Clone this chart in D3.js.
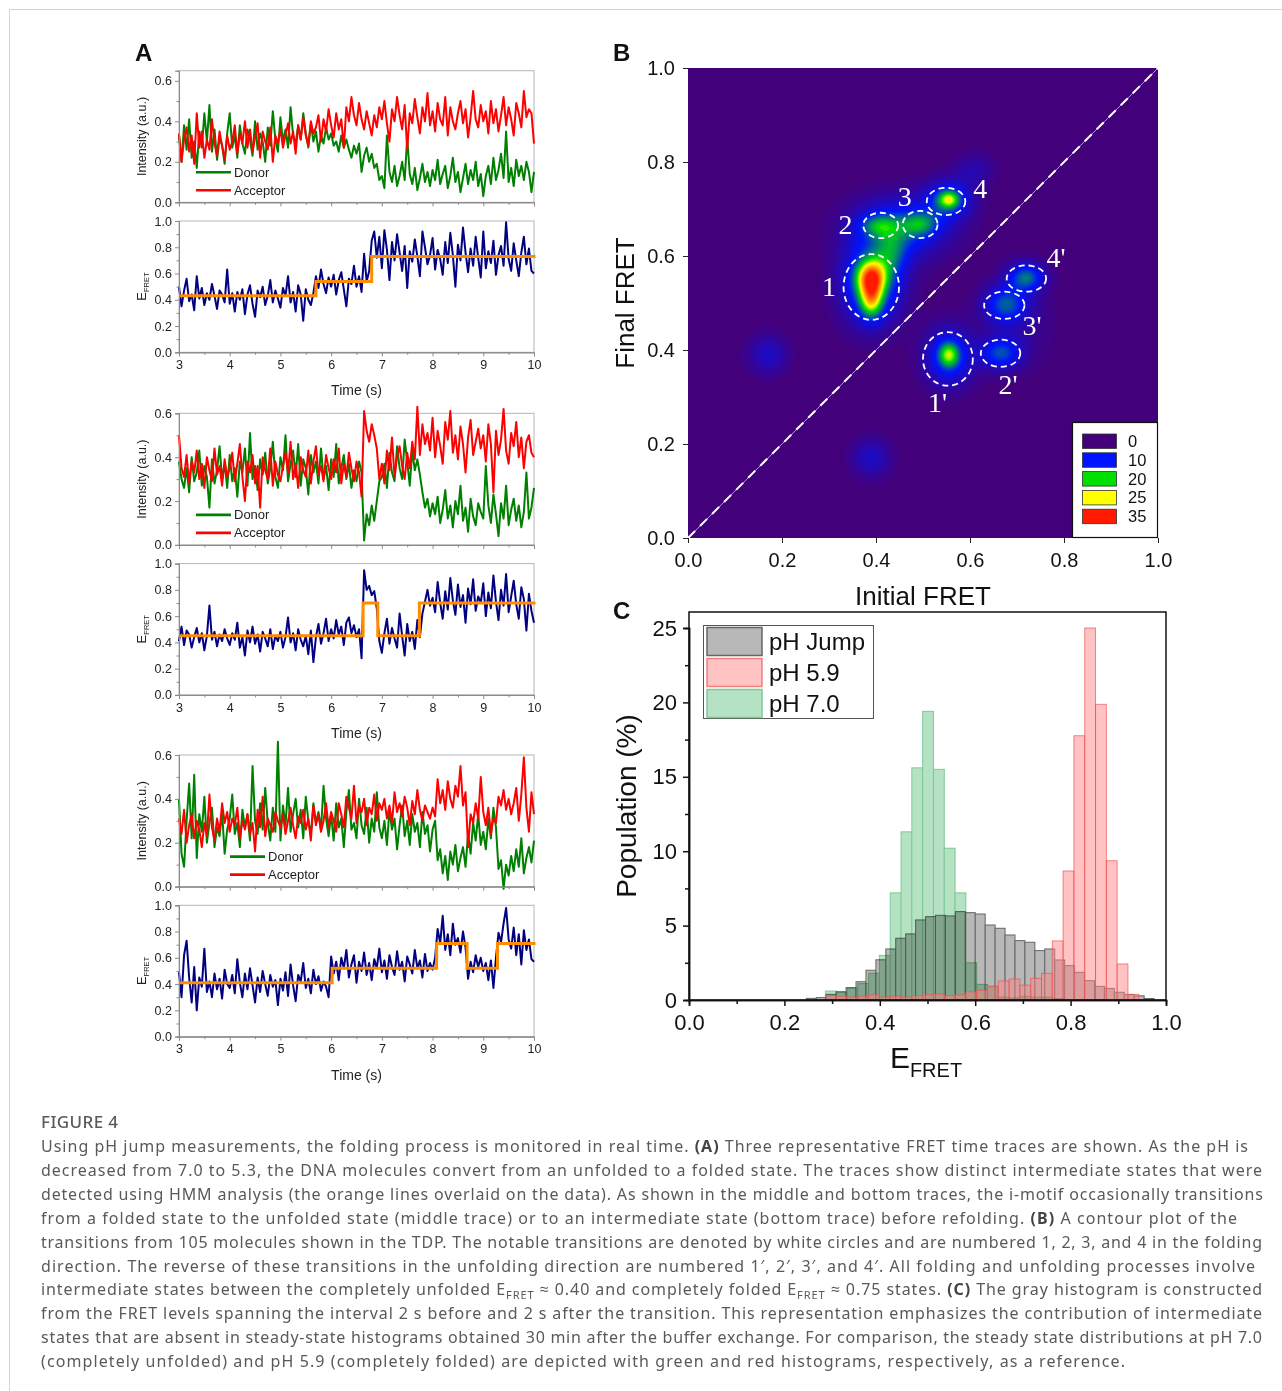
<!DOCTYPE html>
<html>
<head>
<meta charset="utf-8">
<script src="https://cdn.jsdelivr.net/npm/d3@7"></script>
<style>
  body { margin: 0; background: #fff; }
</style>
</head>
<body>
<svg id="fig" width="1282" height="1391" font-family="Liberation Sans, Arial, sans-serif"></svg>
<script>
// ---- Panel A: time traces (one value every 50 ms from 3 s to 10 s) ----
const traceStart = 3;
const frameStep = 0.05;

const donor1 = [
  0.33,0.20,0.38,0.26,0.41,0.22,0.30,0.17,0.35,0.27,0.44,0.30,0.48,0.25,0.36,0.21,0.32,0.28,0.19,0.34,
  0.44,0.27,0.33,0.22,0.38,0.29,0.24,0.36,0.31,0.23,0.40,0.26,0.34,0.30,0.20,0.37,0.28,0.45,0.31,0.25,
  0.42,0.30,0.36,0.27,0.47,0.33,0.29,0.38,0.31,0.44,0.34,0.27,0.39,0.30,0.35,0.25,0.33,0.29,0.37,0.31,
  0.34,0.28,0.30,0.25,0.33,0.27,0.31,0.26,0.22,0.28,0.24,0.29,0.15,0.23,0.27,0.20,0.24,0.17,0.19,0.11,
  0.13,0.07,0.33,0.15,0.10,0.18,0.08,0.13,0.20,0.11,0.32,0.14,0.09,0.17,0.06,0.12,0.19,0.10,0.15,0.08,
  0.16,0.11,0.21,0.09,0.14,0.18,0.07,0.13,0.22,0.10,0.15,0.05,0.12,0.19,0.09,0.16,0.11,0.20,0.08,0.14,
  0.03,0.13,0.18,0.09,0.22,0.11,0.16,0.24,0.12,0.35,0.10,0.17,0.08,0.21,0.13,0.18,0.11,0.20,0.15,0.05,
  0.15];
const acceptor1 = [
  0.34,0.20,0.31,0.37,0.25,0.33,0.19,0.44,0.27,0.35,0.22,0.31,0.26,0.41,0.29,0.23,0.35,0.28,0.21,0.33,
  0.26,0.30,0.38,0.24,0.34,0.29,0.40,0.27,0.36,0.25,0.32,0.39,0.22,0.35,0.30,0.26,0.37,0.20,0.33,0.29,
  0.36,0.27,0.33,0.39,0.29,0.35,0.24,0.38,0.31,0.42,0.33,0.28,0.40,0.34,0.37,0.43,0.30,0.41,0.35,0.46,
  0.38,0.32,0.44,0.36,0.41,0.27,0.47,0.40,0.52,0.43,0.38,0.49,0.41,0.36,0.45,0.39,0.33,0.43,0.37,0.47,
  0.41,0.50,0.39,0.30,0.46,0.40,0.52,0.43,0.36,0.48,0.26,0.44,0.39,0.51,0.42,0.34,0.47,0.40,0.54,0.38,
  0.45,0.35,0.49,0.41,0.38,0.52,0.33,0.47,0.40,0.36,0.44,0.50,0.39,0.46,0.32,0.42,0.55,0.41,0.37,0.48,
  0.40,0.45,0.34,0.50,0.39,0.46,0.35,0.43,0.52,0.38,0.47,0.41,0.33,0.49,0.44,0.37,0.55,0.42,0.46,0.44,
  0.29];
const efret1 = [
  0.50,0.35,0.47,0.56,0.39,0.44,0.32,0.58,0.41,0.49,0.36,0.45,0.40,0.52,0.43,0.33,0.47,0.44,0.38,0.63,
  0.37,0.45,0.31,0.46,0.40,0.48,0.29,0.44,0.51,0.37,0.27,0.47,0.42,0.50,0.36,0.43,0.55,0.38,0.47,0.41,
  0.34,0.49,0.43,0.58,0.38,0.46,0.31,0.51,0.44,0.24,0.48,0.40,0.36,0.45,0.58,0.49,0.63,0.52,0.45,0.57,
  0.50,0.59,0.44,0.55,0.61,0.48,0.35,0.56,0.52,0.66,0.50,0.58,0.46,0.75,0.54,0.62,0.85,0.92,0.72,0.88,
  0.64,0.93,0.78,0.55,0.84,0.70,0.90,0.76,0.62,0.81,0.49,0.77,0.69,0.86,0.73,0.58,0.92,0.80,0.67,0.74,
  0.87,0.63,0.78,0.71,0.59,0.84,0.68,0.91,0.74,0.50,0.82,0.70,0.95,0.76,0.61,0.79,0.66,0.88,0.72,0.57,
  0.92,0.64,0.77,0.68,0.85,0.59,0.74,0.81,0.66,0.99,0.71,0.62,0.83,0.70,0.58,0.76,0.88,0.67,0.79,0.62,
  0.60];
const hmmTimes1 = [3, 5.7, 6.8, 10.03];
const hmmLevels1 = [0.43, 0.54, 0.73];

const donor2 = [
  0.38,0.30,0.26,0.35,0.24,0.40,0.29,0.33,0.43,0.27,0.36,0.31,0.17,0.39,0.28,0.34,0.45,0.30,0.37,0.26,
  0.41,0.29,0.35,0.22,0.38,0.33,0.44,0.27,0.51,0.30,0.36,0.25,0.39,0.32,0.42,0.28,0.35,0.47,0.31,0.26,
  0.40,0.34,0.50,0.29,0.37,0.43,0.31,0.46,0.27,0.39,0.35,0.23,0.41,0.33,0.38,0.28,0.44,0.30,0.36,0.25,
  0.39,0.31,0.46,0.28,0.35,0.41,0.30,0.37,0.26,0.34,0.29,0.38,0.33,0.02,0.14,0.09,0.18,0.11,0.20,0.29,
  0.31,0.37,0.26,0.42,0.33,0.29,0.45,0.35,0.30,0.48,0.38,0.27,0.43,0.34,0.39,0.32,0.24,0.17,0.21,0.13,
  0.19,0.14,0.22,0.10,0.16,0.25,0.12,0.18,0.08,0.20,0.14,0.27,0.11,0.17,0.06,0.21,0.13,0.09,0.19,0.15,
  0.12,0.36,0.18,0.10,0.23,0.14,0.04,0.19,0.12,0.27,0.09,0.16,0.21,0.11,0.18,0.08,0.15,0.33,0.12,0.17,
  0.26];
const acceptor2 = [
  0.50,0.35,0.31,0.41,0.28,0.38,0.33,0.43,0.30,0.37,0.26,0.40,0.34,0.29,0.44,0.32,0.36,0.27,0.39,0.31,
  0.35,0.42,0.29,0.37,0.46,0.31,0.20,0.38,0.33,0.41,0.28,0.36,0.17,0.40,0.34,0.30,0.44,0.27,0.38,0.32,
  0.29,0.36,0.42,0.33,0.47,0.30,0.37,0.26,0.40,0.34,0.31,0.43,0.28,0.38,0.45,0.32,0.36,0.29,0.41,0.35,
  0.30,0.39,0.33,0.44,0.28,0.37,0.31,0.42,0.35,0.29,0.38,0.33,0.22,0.61,0.52,0.47,0.55,0.50,0.44,0.30,
  0.37,0.28,0.43,0.34,0.49,0.31,0.40,0.45,0.36,0.30,0.42,0.35,0.47,0.39,0.63,0.41,0.55,0.46,0.51,0.43,
  0.58,0.40,0.52,0.45,0.37,0.56,0.48,0.61,0.42,0.50,0.39,0.54,0.46,0.33,0.49,0.57,0.41,0.47,0.53,0.44,
  0.50,0.38,0.55,0.46,0.24,0.52,0.41,0.48,0.62,0.43,0.37,0.51,0.45,0.56,0.40,0.49,0.35,0.47,0.50,0.42,
  0.40];
const efret2 = [
  0.41,0.52,0.38,0.49,0.46,0.36,0.44,0.51,0.40,0.47,0.34,0.45,0.68,0.42,0.48,0.37,0.46,0.41,0.50,0.43,
  0.38,0.47,0.42,0.55,0.36,0.44,0.30,0.49,0.40,0.52,0.39,0.46,0.33,0.48,0.43,0.37,0.50,0.35,0.45,0.41,
  0.48,0.36,0.44,0.59,0.40,0.47,0.34,0.50,0.42,0.37,0.45,0.31,0.49,0.25,0.44,0.54,0.39,0.47,0.58,0.41,
  0.50,0.43,0.57,0.46,0.52,0.38,0.55,0.59,0.47,0.53,0.44,0.50,0.28,0.95,0.80,0.83,0.76,0.79,0.66,0.41,
  0.32,0.47,0.58,0.39,0.51,0.43,0.36,0.62,0.45,0.30,0.54,0.41,0.48,0.35,0.57,0.44,0.62,0.71,0.80,0.68,
  0.74,0.63,0.86,0.70,0.58,0.79,0.65,0.89,0.72,0.61,0.84,0.67,0.76,0.55,0.81,0.69,0.88,0.64,0.75,0.70,
  0.85,0.60,0.78,0.66,0.91,0.71,0.57,0.80,0.68,0.92,0.63,0.75,0.87,0.69,0.58,0.82,0.73,0.49,0.77,0.64,
  0.55];
const hmmTimes2 = [3, 6.63, 6.92, 7.74, 10.03];
const hmmLevels2 = [0.45, 0.70, 0.45, 0.70];

const donor3 = [
  0.40,0.15,0.09,0.30,0.47,0.22,0.51,0.13,0.33,0.25,0.41,0.20,0.29,0.36,0.18,0.27,0.23,0.34,0.15,0.26,
  0.31,0.42,0.24,0.29,0.18,0.35,0.27,0.33,0.21,0.55,0.30,0.24,0.38,0.26,0.45,0.29,0.21,0.36,0.25,0.66,
  0.21,0.37,0.28,0.45,0.25,0.33,0.40,0.27,0.35,0.22,0.41,0.30,0.24,0.38,0.29,0.34,0.26,0.46,0.31,0.23,
  0.33,0.21,0.38,0.27,0.31,0.18,0.34,0.44,0.26,0.29,0.22,0.40,0.28,0.24,0.36,0.20,0.31,0.25,0.43,0.27,
  0.22,0.30,0.19,0.35,0.26,0.31,0.17,0.28,0.37,0.23,0.30,0.19,0.33,0.25,0.29,0.18,0.34,0.24,0.28,0.16,
  0.26,0.30,0.12,0.17,0.06,0.14,0.03,0.16,0.10,0.19,0.07,0.13,0.18,0.09,0.24,0.15,0.29,0.21,0.33,0.19,
  0.25,0.17,0.31,0.22,0.36,0.27,0.08,0.12,-0.01,0.10,0.05,0.14,0.07,0.17,0.09,0.22,0.06,0.13,0.18,0.11,
  0.21];
const acceptor3 = [
  0.31,0.24,0.35,0.20,0.28,0.33,0.22,0.30,0.26,0.18,0.29,0.23,0.42,0.27,0.21,0.31,0.25,0.38,0.29,0.34,
  0.25,0.31,0.28,0.36,0.22,0.30,0.26,0.33,0.24,0.29,0.16,0.35,0.27,0.41,0.23,0.31,0.28,0.25,0.34,0.30,
  0.27,0.33,0.24,0.30,0.36,0.28,0.22,0.32,0.29,0.35,0.26,0.31,0.21,0.37,0.28,0.33,0.25,0.30,0.38,0.27,
  0.34,0.30,0.25,0.38,0.33,0.27,0.41,0.36,0.31,0.46,0.29,0.37,0.34,0.40,0.28,0.36,0.33,0.42,0.30,0.38,
  0.35,0.40,0.31,0.37,0.29,0.43,0.34,0.38,0.32,0.41,0.36,0.28,0.39,0.33,0.44,0.35,0.30,0.37,0.34,0.31,
  0.36,0.32,0.49,0.38,0.44,0.35,0.48,0.40,0.36,0.46,0.41,0.55,0.37,0.43,0.18,0.33,0.29,0.38,0.31,0.50,
  0.34,0.28,0.36,0.24,0.31,0.29,0.41,0.37,0.44,0.35,0.40,0.33,0.38,0.45,0.30,0.42,0.59,0.36,0.25,0.43,
  0.33];
const efret3 = [
  0.49,0.30,0.62,0.73,0.45,0.26,0.53,0.20,0.45,0.38,0.67,0.34,0.42,0.30,0.48,0.36,0.44,0.29,0.51,0.40,
  0.37,0.47,0.33,0.59,0.41,0.30,0.48,0.36,0.52,0.39,0.26,0.45,0.34,0.50,0.40,0.31,0.47,0.38,0.43,0.24,
  0.44,0.35,0.49,0.31,0.55,0.39,0.27,0.47,0.42,0.56,0.37,0.44,0.33,0.51,0.40,0.46,0.35,0.42,0.38,0.30,
  0.61,0.48,0.57,0.43,0.60,0.52,0.66,0.45,0.55,0.62,0.41,0.57,0.50,0.64,0.47,0.56,0.43,0.59,0.52,0.67,
  0.49,0.58,0.44,0.62,0.53,0.47,0.65,0.51,0.57,0.42,0.61,0.55,0.48,0.66,0.52,0.58,0.45,0.63,0.50,0.56,
  0.51,0.60,0.82,0.71,0.92,0.66,0.78,0.62,0.86,0.70,0.75,0.64,0.80,0.68,0.44,0.57,0.49,0.62,0.53,0.60,
  0.50,0.56,0.43,0.58,0.37,0.60,0.79,0.72,0.86,0.98,0.74,0.67,0.83,0.62,0.78,0.55,0.81,0.66,0.74,0.59,
  0.57];
const hmmTimes3 = [3, 6.02, 8.08, 8.68, 9.28, 10.03];
const hmmLevels3 = [0.41, 0.52, 0.71, 0.52, 0.71];

// ---- Panel B: transition density peaks (initial FRET, final FRET) ----
const peakX   = [0.39, 0.39, 0.39, 0.45, 0.405, 0.495, 0.555, 0.555, 0.555, 0.555, 0.665, 0.675, 0.72, 0.17, 0.39, 0.61, 0.435, 0.70];
const peakY   = [0.555, 0.505, 0.54, 0.66, 0.665, 0.668, 0.72, 0.72, 0.39, 0.385, 0.393, 0.497, 0.555, 0.39, 0.17, 0.785, 0.605, 0.46];
const peakAmp = [20, 15, 15, 12, 8, 9, 14, 11, 13, 12, 12, 12, 14, 6, 6, 4, 7, 3];
const peakSx  = [0.022, 0.017, 0.045, 0.07, 0.028, 0.026, 0.016, 0.036, 0.015, 0.036, 0.03, 0.032, 0.027, 0.03, 0.03, 0.03, 0.024, 0.05];
const peakSy  = [0.026, 0.028, 0.06, 0.045, 0.016, 0.018, 0.013, 0.03, 0.018, 0.044, 0.023, 0.027, 0.021, 0.03, 0.03, 0.025, 0.038, 0.07];
const densityLevels = [0, 10, 20, 25, 35];
const densityColors = ["#42007a", "#0014ff", "#00e000", "#ffff00", "#ff1a00"];
// marked transitions
const markLabels = ["1", "2", "3", "4", "1'", "2'", "3'", "4'"];
const markX  = [0.39, 0.41, 0.494, 0.549, 0.553, 0.665, 0.673, 0.72];
const markY  = [0.534, 0.665, 0.667, 0.716, 0.381, 0.393, 0.495, 0.552];
const markRx = [0.059, 0.037, 0.037, 0.041, 0.053, 0.042, 0.043, 0.042];
const markRy = [0.070, 0.027, 0.029, 0.029, 0.057, 0.029, 0.029, 0.028];
const labelX = [0.30, 0.335, 0.461, 0.622, 0.531, 0.681, 0.732, 0.783];
const labelY = [0.534, 0.666, 0.726, 0.743, 0.288, 0.326, 0.452, 0.596];

// ---- Panel C: EFRET histograms (%) ----
const jumpStart = 0.246, jumpBin = 0.02083;
const jumpPop = [0.11,0.16,0.38,0.56,0.83,1.23,2.0,2.7,3.43,4.15,4.44,5.38,5.6,5.69,5.65,5.94,5.87,5.78,
                 5.04,4.82,4.37,3.99,3.88,3.32,3.43,2.69,2.31,1.86,1.3,0.92,0.78,0.52,0.36,0.28,0.1];
const steadyStart = 0.286, steadyBin = 0.02265;
const ph70Pop = [0.6,0.5,0.8,1.1,1.8,3.0,7.2,11.3,15.6,19.4,15.5,10.2,7.2,2.5,1.05,0.9,0.2,0.15,0.25,0.2,0.2,0.1];
const ph59Pop = [0.3,0.25,0.2,0.25,0.35,0.2,0.25,0.2,0.3,0.35,0.4,0.3,0.35,0.55,0.65,0.94,1.28,1.41,1.0,1.46,1.79,
                 3.97,8.67,17.76,25.0,19.87,9.36,2.42,0.38];
const histSeries = ["pH Jump", "pH 5.9", "pH 7.0"];

const captionLines = [
  [["Using pH jump measurements, the folding process is monitored in real time. "], ["(A)", "b"], [" Three representative FRET time traces are shown. As the pH is"]],
  [["decreased from 7.0 to 5.3, the DNA molecules convert from an unfolded to a folded state. The traces show distinct intermediate states that were"]],
  [["detected using HMM analysis (the orange lines overlaid on the data). As shown in the middle and bottom traces, the i-motif occasionally transitions"]],
  [["from a folded state to the unfolded state (middle trace) or to an intermediate state (bottom trace) before refolding. "], ["(B)", "b"], [" A contour plot of the"]],
  [["transitions from 105 molecules shown in the TDP. The notable transitions are denoted by white circles and are numbered 1, 2, 3, and 4 in the folding"]],
  [["direction. The reverse of these transitions in the unfolding direction are numbered 1\u2032, 2\u2032, 3\u2032, and 4\u2032. All folding and unfolding processes involve"]],
  [["intermediate states between the completely unfolded E"], ["FRET", "sub"], [" \u2248 0.40 and completely folded E"], ["FRET", "sub"], [" \u2248 0.75 states. "], ["(C)", "b"], [" The gray histogram is constructed"]],
  [["from the FRET levels spanning the interval 2 s before and 2 s after the transition. This representation emphasizes the contribution of intermediate"]],
  [["states that are absent in steady-state histograms obtained 30 min after the buffer exchange. For comparison, the steady state distributions at pH 7.0"]],
  [["(completely unfolded) and pH 5.9 (completely folded) are depicted with green and red histograms, respectively, as a reference."]]
];
const captionEnds = [1248, 1262, 1263, 1237, 1262, 1255, 1262, 1262, 1262, 1125];

// ================= drawing =================
const SANS = 'Liberation Sans, Arial, sans-serif';
const svg = d3.select('#fig');
svg.append('rect').attr('width', 1282).attr('height', 1391).attr('fill', '#fff');
svg.append('rect').attr('x', 9.5).attr('y', 9.5).attr('width', 1300).attr('height', 1420)
  .attr('fill', 'none').attr('stroke', '#d4d4d4');

function panelLetter(t, x, y) {
  svg.append('text').attr('x', x).attr('y', y).attr('font-size', 24).attr('font-weight', 'bold')
    .attr('fill', '#111').text(t);
}
panelLetter('A', 135, 61);
panelLetter('B', 613, 61);
panelLetter('C', 613, 619);

function styleAxis(g, color, fontSize, textColor) {
  g.attr('font-family', SANS);
  g.select('.domain').attr('stroke', color);
  g.selectAll('.tick line').attr('stroke', color);
  g.selectAll('.tick text').attr('font-size', fontSize).attr('fill', textColor);
}

// ---- Panel A ----
const traceX = d3.scaleLinear().domain([3, 10]).range([179, 534]);
const traces = [
  { donor: donor1, acceptor: acceptor1, efret: efret1, hmmT: hmmTimes1, hmmE: hmmLevels1, intMax: 0.65, top: 70.7, legendX: 196 },
  { donor: donor2, acceptor: acceptor2, efret: efret2, hmmT: hmmTimes2, hmmE: hmmLevels2, intMax: 0.6, top: 413.3, legendX: 196 },
  { donor: donor3, acceptor: acceptor3, efret: efret3, hmmT: hmmTimes3, hmmE: hmmLevels3, intMax: 0.6, top: 755, legendX: 230 }
];

traces.forEach(drawTrace);

function drawTrace(tr) {
  const g = svg.append('g');
  const intY = d3.scaleLinear().domain([0, tr.intMax]).range([tr.top + 131.6, tr.top]);
  const effY = d3.scaleLinear().domain([0, 1]).range([tr.top + 281.6, tr.top + 150.3]);
  const axisColor = '#8a8a8a';

  // frames
  [[intY(tr.intMax), intY(0)], [effY(1), effY(0)]].forEach(([y0, y1]) => {
    g.append('rect').attr('x', traceX(3)).attr('y', y0).attr('width', traceX(10) - traceX(3))
      .attr('height', y1 - y0).attr('fill', 'none').attr('stroke', '#b5b5b5').attr('stroke-width', 1);
  });

  const tLine = scale => d3.line().x((d, i) => traceX(traceStart + i * frameStep)).y(d => scale(d));

  g.append('path').datum(tr.donor).attr('d', tLine(intY)).attr('fill', 'none')
    .attr('stroke', '#008000').attr('stroke-width', 2).attr('stroke-linejoin', 'round');
  g.append('path').datum(tr.acceptor).attr('d', tLine(intY)).attr('fill', 'none')
    .attr('stroke', '#ff0000').attr('stroke-width', 2).attr('stroke-linejoin', 'round');
  g.append('path').datum(tr.efret).attr('d', tLine(effY)).attr('fill', 'none')
    .attr('stroke', '#000080').attr('stroke-width', 2).attr('stroke-linejoin', 'round');

  const steps = tr.hmmE.map((e, k) => [tr.hmmT[k], e]);
  steps.push([tr.hmmT[tr.hmmT.length - 1], tr.hmmE[tr.hmmE.length - 1]]);
  g.append('path').datum(steps)
    .attr('d', d3.line().x(d => traceX(d[0])).y(d => effY(d[1])).curve(d3.curveStepAfter))
    .attr('fill', 'none').attr('stroke', '#ff8c00').attr('stroke-width', 3);

  // axes
  const intTicks = d3.range(0, tr.intMax + 0.001, 0.2);
  const yi = g.append('g').attr('transform', `translate(${traceX(3)},0)`)
    .call(d3.axisLeft(intY).tickValues(intTicks).tickFormat(d3.format('.1f')).tickSize(4).tickPadding(3));
  styleAxis(yi, axisColor, 12.5, '#222');
  const yim = g.append('g').attr('transform', `translate(${traceX(3)},0)`)
    .call(d3.axisLeft(intY).tickValues(d3.range(0.1, tr.intMax, 0.2)).tickFormat('').tickSize(2.5));
  styleAxis(yim, axisColor, 12, '#222');

  const ye = g.append('g').attr('transform', `translate(${traceX(3)},0)`)
    .call(d3.axisLeft(effY).tickValues(d3.range(0, 1.01, 0.2)).tickFormat(d3.format('.1f')).tickSize(4).tickPadding(3));
  styleAxis(ye, axisColor, 12.5, '#222');
  const yem = g.append('g').attr('transform', `translate(${traceX(3)},0)`)
    .call(d3.axisLeft(effY).tickValues(d3.range(0.1, 1, 0.2)).tickFormat('').tickSize(2.5));
  styleAxis(yem, axisColor, 12, '#222');

  [intY(0), effY(0)].forEach((y, k) => {
    const xa = g.append('g').attr('transform', `translate(0,${y})`)
      .call(d3.axisBottom(traceX).tickValues(d3.range(3, 10.01, 1)).tickSize(4).tickPadding(4)
        .tickFormat(k === 1 ? d3.format('d') : ''));
    styleAxis(xa, axisColor, 12.5, '#222');
    const xm = g.append('g').attr('transform', `translate(0,${y})`)
      .call(d3.axisBottom(traceX).tickValues(d3.range(3.5, 10, 1)).tickSize(2.5).tickFormat(''));
    styleAxis(xm, axisColor, 12, '#222');
  });

  // titles
  g.append('text').attr('transform', `translate(146,${(intY(0) + intY(tr.intMax)) / 2}) rotate(-90)`)
    .attr('text-anchor', 'middle').attr('font-size', 12.5).attr('fill', '#222').text('Intensity (a.u.)');
  const et = g.append('text').attr('transform', `translate(146,${(effY(0) + effY(1)) / 2}) rotate(-90)`)
    .attr('text-anchor', 'middle').attr('font-size', 13).attr('fill', '#222');
  et.append('tspan').text('E');
  et.append('tspan').attr('font-size', 7.5).attr('dy', 3).text('FRET');
  g.append('text').attr('x', (traceX(3) + traceX(10)) / 2).attr('y', effY(0) + 43)
    .attr('text-anchor', 'middle').attr('font-size', 14).attr('fill', '#222').text('Time (s)');

  // legend
  [['Donor', '#008000', 30], ['Acceptor', '#ff0000', 12]].forEach(([name, col, off]) => {
    const y = intY(0) - off;
    g.append('line').attr('x1', tr.legendX).attr('x2', tr.legendX + 35).attr('y1', y).attr('y2', y)
      .attr('stroke', col).attr('stroke-width', 2.6);
    g.append('text').attr('x', tr.legendX + 38).attr('y', y + 4.5).attr('font-size', 13)
      .attr('fill', '#222').text(name);
  });
}

// ---- Panel B ----
const xB = d3.scaleLinear().domain([0, 1]).range([688, 1158]);
const yB = d3.scaleLinear().domain([0, 1]).range([538, 68]);
const gB = svg.append('g');
const densityColor = d3.scaleLinear().domain(densityLevels).range(densityColors).clamp(true);

gB.append('rect').attr('x', xB(0)).attr('y', yB(1)).attr('width', xB(1) - xB(0)).attr('height', yB(0) - yB(1))
  .attr('fill', densityColors[0]);

const gridN = 160;
const grid = new Float64Array(gridN * gridN);
for (let j = 0; j < gridN; j++) {
  for (let i = 0; i < gridN; i++) {
    const fx = (i + 0.5) / gridN, fy = 1 - (j + 0.5) / gridN;
    let v = 0;
    for (let k = 0; k < peakX.length; k++) {
      const dx = (fx - peakX[k]) / peakSx[k], dy = (fy - peakY[k]) / peakSy[k];
      v += peakAmp[k] * Math.exp(-0.5 * (dx * dx + dy * dy));
    }
    grid[j * gridN + i] = v;
  }
}
const contours = d3.contours().size([gridN, gridN]).thresholds(d3.range(0.8, 40, 0.8))(grid);
const contourPath = d3.geoPath(d3.geoIdentity().scale((xB(1) - xB(0)) / gridN).translate([xB(0), yB(1)]));
gB.append('g').selectAll('path').data(contours).join('path')
  .attr('d', contourPath).attr('fill', d => densityColor(d.value));

// diagonal
gB.append('line').attr('x1', xB(0)).attr('y1', yB(0)).attr('x2', xB(1)).attr('y2', yB(1))
  .attr('stroke', '#cbb8ee').attr('stroke-width', 0.8);
gB.append('line').attr('x1', xB(0)).attr('y1', yB(0)).attr('x2', xB(1)).attr('y2', yB(1))
  .attr('stroke', '#fff').attr('stroke-width', 2).attr('stroke-dasharray', '10,7');

// marked transitions
gB.append('g').selectAll('ellipse').data(markLabels).join('ellipse')
  .attr('cx', (d, i) => xB(markX[i])).attr('cy', (d, i) => yB(markY[i]))
  .attr('rx', (d, i) => xB(markRx[i]) - xB(0)).attr('ry', (d, i) => yB(0) - yB(markRy[i]))
  .attr('fill', 'none').attr('stroke', '#fff').attr('stroke-width', 1.8).attr('stroke-dasharray', '6,4');
gB.append('g').selectAll('text').data(markLabels).join('text')
  .attr('x', (d, i) => xB(labelX[i])).attr('y', (d, i) => yB(labelY[i]) + 9)
  .attr('text-anchor', 'middle').attr('font-family', 'Liberation Serif, Times New Roman, serif')
  .attr('font-size', 28).attr('fill', '#fff').text(d => d);

const xaB = gB.append('g').attr('transform', `translate(0,${yB(0)})`)
  .call(d3.axisBottom(xB).tickValues(d3.range(0, 1.01, 0.2)).tickFormat(d3.format('.1f')).tickSize(5).tickPadding(10));
styleAxis(xaB, '#222', 20, '#111');
xaB.select('.domain').remove();
const yaB = gB.append('g').attr('transform', `translate(${xB(0)},0)`)
  .call(d3.axisLeft(yB).tickValues(d3.range(0, 1.01, 0.2)).tickFormat(d3.format('.1f')).tickSize(5).tickPadding(8));
styleAxis(yaB, '#222', 20, '#111');
yaB.select('.domain').remove();

gB.append('text').attr('x', (xB(0) + xB(1)) / 2).attr('y', 605).attr('text-anchor', 'middle')
  .attr('font-size', 26).attr('fill', '#111').text('Initial FRET');
gB.append('text').attr('transform', `translate(634,${(yB(0) + yB(1)) / 2}) rotate(-90)`)
  .attr('text-anchor', 'middle').attr('font-size', 26).attr('fill', '#111').text('Final FRET');

// legend B
const legB = gB.append('g');
legB.append('rect').attr('x', 1072.5).attr('y', 422.5).attr('width', 85).attr('height', 115)
  .attr('fill', '#fff').attr('stroke', '#111').attr('stroke-width', 1.2);
densityLevels.forEach((lv, k) => {
  const y = 434 + k * 18.8;
  legB.append('rect').attr('x', 1082.5).attr('y', y).attr('width', 34).attr('height', 14.5)
    .attr('fill', densityColors[k]).attr('stroke', '#333').attr('stroke-width', 0.8);
  legB.append('text').attr('x', 1128).attr('y', y + 13).attr('font-size', 16.5).attr('fill', '#111').text(lv);
});

// ---- Panel C ----
const xC = d3.scaleLinear().domain([0, 1]).range([689, 1166]);
const yC = d3.scaleLinear().domain([0, 25]).range([1000, 628]);
const gC = svg.append('g');
const histStyle = {
  'pH Jump': { fill: '#b8b8b8', stroke: '#666', opacity: 1, blend: 'normal' },
  'pH 5.9': { fill: '#ff8282', stroke: '#f05050', opacity: 0.48, blend: 'normal' },
  'pH 7.0': { fill: '#b4e2c2', stroke: '#80c898', opacity: 1, blend: 'multiply' }
};

function drawHist(values, start, bin, name) {
  const st = histStyle[name];
  gC.append('g').style('mix-blend-mode', st.blend)
    .selectAll('rect').data(values).join('rect')
    .attr('x', (d, i) => xC(start + i * bin))
    .attr('width', xC(bin) - xC(0))
    .attr('y', d => yC(d))
    .attr('height', d => yC(0) - yC(d))
    .attr('fill', st.fill).attr('fill-opacity', st.opacity)
    .attr('stroke', st.stroke).attr('stroke-opacity', Math.min(1, st.opacity + 0.2)).attr('stroke-width', 1);
}
drawHist(jumpPop, jumpStart, jumpBin, 'pH Jump');
drawHist(ph70Pop, steadyStart, steadyBin, 'pH 7.0');
drawHist(ph59Pop, steadyStart, steadyBin, 'pH 5.9');

gC.append('rect').attr('x', xC(0)).attr('y', 612).attr('width', xC(1) - xC(0)).attr('height', yC(0) - 612)
  .attr('fill', 'none').attr('stroke', '#111').attr('stroke-width', 1.5);

const xaC = gC.append('g').attr('transform', `translate(0,${yC(0)})`)
  .call(d3.axisBottom(xC).tickValues(d3.range(0, 1.01, 0.2)).tickFormat(d3.format('.1f')).tickSize(6).tickPadding(8));
styleAxis(xaC, '#111', 22, '#111');
xaC.selectAll('.tick line').attr('stroke-width', 1.5);
const xmC = gC.append('g').attr('transform', `translate(0,${yC(0)})`)
  .call(d3.axisBottom(xC).tickValues(d3.range(0.1, 1, 0.2)).tickFormat('').tickSize(4));
styleAxis(xmC, '#111', 22, '#111');
xmC.selectAll('.tick line').attr('stroke-width', 1.5);
const yaC = gC.append('g').attr('transform', `translate(${xC(0)},0)`)
  .call(d3.axisLeft(yC).tickValues(d3.range(0, 25.1, 5)).tickFormat(d3.format('d')).tickSize(6).tickPadding(6));
styleAxis(yaC, '#111', 22, '#111');
yaC.selectAll('.tick line').attr('stroke-width', 1.5);
const ymC = gC.append('g').attr('transform', `translate(${xC(0)},0)`)
  .call(d3.axisLeft(yC).tickValues(d3.range(2.5, 25, 5)).tickFormat('').tickSize(4));
styleAxis(ymC, '#111', 22, '#111');
ymC.selectAll('.tick line').attr('stroke-width', 1.5);
gC.selectAll('.domain').attr('stroke-width', 1.5);

const etC = gC.append('text').attr('x', 926).attr('y', 1068).attr('text-anchor', 'middle').attr('fill', '#111');
etC.append('tspan').attr('font-size', 30).text('E');
etC.append('tspan').attr('font-size', 20).attr('dy', 9).text('FRET');
gC.append('text').attr('transform', `translate(636,${(yC(0) + 612) / 2}) rotate(-90)`)
  .attr('text-anchor', 'middle').attr('font-size', 28).attr('fill', '#111').text('Population (%)');

// legend C
const legC = gC.append('g');
legC.append('rect').attr('x', 703.5).attr('y', 625.5).attr('width', 170).attr('height', 93)
  .attr('fill', '#fff').attr('stroke', '#555').attr('stroke-width', 1);
histSeries.forEach((name, k) => {
  const y = 627.5 + k * 31;
  legC.append('rect').attr('x', 707).attr('y', y).attr('width', 55).attr('height', 28)
    .attr('fill', histStyle[name].fill).attr('fill-opacity', histStyle[name].opacity)
    .attr('stroke', histStyle[name].stroke).attr('stroke-opacity', Math.min(1, histStyle[name].opacity + 0.2))
    .attr('stroke-width', 1.5);
  legC.append('text').attr('x', 769).attr('y', y + 22).attr('font-size', 24).attr('fill', '#111').text(name);
});

// ---- caption ----
const cap = svg.append('g').attr('font-family', 'Noto Sans, Open Sans, sans-serif');
cap.append('text').attr('x', 41).attr('y', 1128).attr('font-size', 17).attr('fill', '#5b5b5b')
  .attr('letter-spacing', 0.4).attr('font-weight', 500).text('FIGURE 4');
captionLines.forEach((line, k) => {
  const t = cap.append('text').attr('x', 41).attr('y', 1152 + k * 23.9)
    .attr('font-size', 16).attr('fill', '#595959')
    .attr('textLength', captionEnds[k] - 41).attr('lengthAdjust', 'spacing');
  let afterSub = false;
  line.forEach(([s, kind]) => {
    const sp = t.append('tspan').text(s);
    if (kind === 'b') sp.attr('font-weight', 'bold').attr('fill', '#444');
    if (kind === 'sub') sp.attr('font-size', 11).attr('dy', 4);
    else if (afterSub) sp.attr('dy', -4);
    afterSub = kind === 'sub';
  });
});
</script>
</body>
</html>
